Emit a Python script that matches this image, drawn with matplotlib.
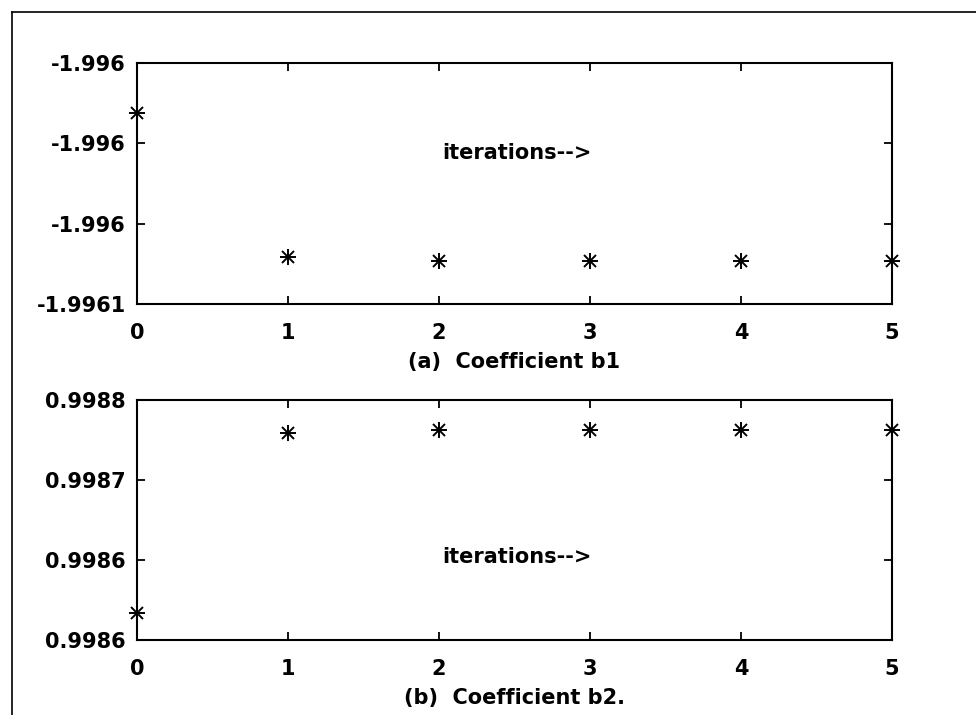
"""Convergence of the coefficients b1 and b2 over the iterations."""
import matplotlib
matplotlib.use('Agg')
import matplotlib.pyplot as plt
from matplotlib.lines import Line2D

iterations = [0, 1, 2, 3, 4, 5]
b1 = [-1.995981, -1.996071, -1.996073, -1.996073, -1.996073, -1.996073]
b2 = [0.998587, 0.998767, 0.998770, 0.998770, 0.998770, 0.998770]

b1_ticks = [-1.9961, -1.99605, -1.9960, -1.99595]
b1_labels = ['-1.9961', '-1.996', '-1.996', '-1.996']
b2_ticks = [0.99856, 0.99864, 0.99872, 0.99880]
b2_labels = ['0.9986', '0.9986', '0.9987', '0.9988']
x_ticks = [0, 1, 2, 3, 4, 5]

plt.rcParams['font.family'] = 'DejaVu Sans'
plt.rcParams['font.weight'] = 'bold'
plt.rcParams['axes.labelweight'] = 'bold'
plt.rcParams['font.size'] = 15

fig = plt.figure(figsize=(9.76, 7.15), dpi=100)

# page frame from the scan
fig.add_artist(Line2D([12/976, 1.0], [1 - 12/715, 1 - 12/715], color='black', lw=1.2))
fig.add_artist(Line2D([12/976, 12/976], [0.0, 1 - 12/715], color='black', lw=1.2))

ax1 = fig.add_axes([0.1404, 0.5748, 0.7736, 0.3371])
ax2 = fig.add_axes([0.1404, 0.1049, 0.7736, 0.3357])

panels = [
    (ax1, b1, b1_ticks, b1_labels, '(a)  Coefficient b1', 0.627),
    (ax2, b2, b2_ticks, b2_labels, '(b)  Coefficient b2.', 0.346),
]

for ax, vals, yt, yl, title, text_y in panels:
    ax.plot(iterations, vals, linestyle='none', marker='+', ms=11, mew=1.4,
            color='black', clip_on=False, zorder=5)
    ax.plot(iterations, vals, linestyle='none', marker='x', ms=8, mew=1.4,
            color='black', clip_on=False, zorder=5)
    ax.set_xlim(0, 5)
    ax.set_ylim(yt[0], yt[-1])
    ax.set_xticks(x_ticks)
    ax.set_yticks(yt)
    ax.set_yticklabels(yl)
    ax.tick_params(direction='in', length=6, width=1.3, top=True, right=True)
    ax.tick_params(axis='x', pad=14)
    ax.tick_params(axis='y', pad=8)
    for sp in ax.spines.values():
        sp.set_linewidth(1.5)
    ax.set_xlabel(title, labelpad=6)
    ax.text(2.02, yt[0] + text_y * (yt[-1] - yt[0]), 'iterations-->',
            ha='left', va='center')

fig.savefig('out.png', dpi=100)
